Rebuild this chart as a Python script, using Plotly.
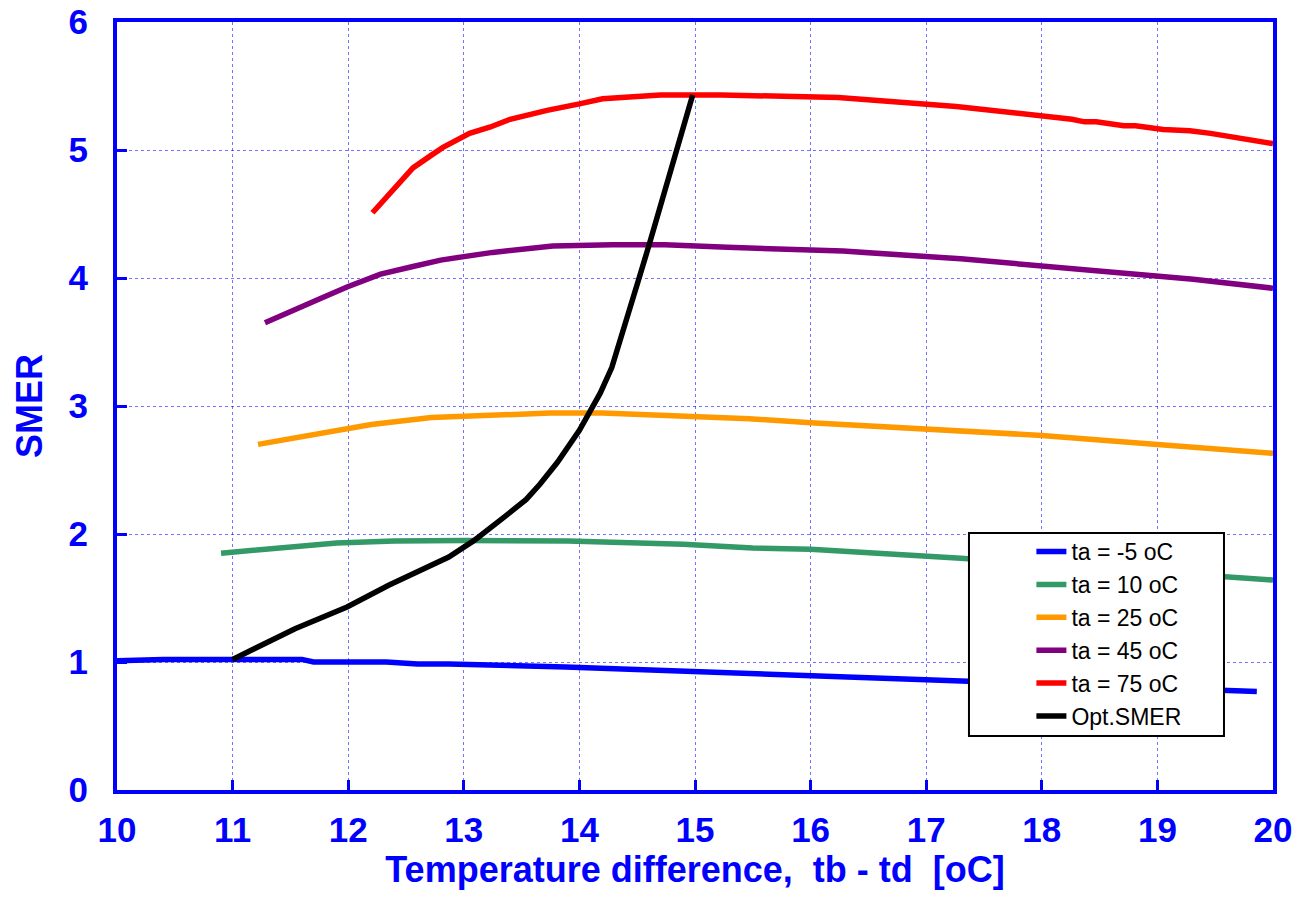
import plotly.graph_objects as go

# ---- data ----
blue_x = [10.0, 10.4, 11.0, 11.6, 11.7, 12.33, 12.6, 12.87, 13.88, 14.86, 15.47, 17.29, 19.86]
blue_y = [1.01, 1.02, 1.02, 1.02, 1.0, 1.0, 0.985, 0.985, 0.96, 0.93, 0.91, 0.85, 0.77]

green_x = [10.9, 11.4, 11.9, 12.4, 13.0, 13.9, 14.9, 15.5, 16.0, 17.3, 19.6, 20.0]
green_y = [1.85, 1.89, 1.93, 1.945, 1.95, 1.945, 1.92, 1.89, 1.88, 1.81, 1.67, 1.64]

orange_x = [11.22, 12.2, 12.72, 13.75, 14.2, 15.47, 16.0, 17.0, 18.0, 19.0, 20.0]
orange_y = [2.70, 2.855, 2.91, 2.945, 2.945, 2.90, 2.87, 2.82, 2.77, 2.70, 2.63]

purple_x = [11.28, 11.52, 11.76, 11.99, 12.28, 12.56, 12.8, 13.25, 13.77, 14.29, 14.74,
            15.28, 16.28, 17.3, 18.3, 19.31, 20.0]
purple_y = [3.65, 3.75, 3.84, 3.93, 4.03, 4.09, 4.14, 4.20, 4.25, 4.26, 4.26,
            4.24, 4.21, 4.15, 4.07, 3.99, 3.92]

red_x = [12.21, 12.56, 12.72, 12.82, 13.05, 13.14, 13.23, 13.40, 13.72, 14.0, 14.2, 14.7,
         15.23, 16.24, 17.26, 18.26, 18.37, 18.47, 18.71, 18.81, 19.05, 19.28, 19.46, 20.0]
red_y = [4.51, 4.86, 4.96, 5.02, 5.13, 5.15, 5.18, 5.24, 5.31, 5.36, 5.40, 5.43,
         5.43, 5.41, 5.34, 5.24, 5.22, 5.22, 5.19, 5.19, 5.16, 5.15, 5.13, 5.05]

opt_x = [11.0, 11.26, 11.54, 11.99, 12.35, 12.87, 13.09, 13.36, 13.54, 13.66, 13.81,
         14.0, 14.05, 14.18, 14.28, 14.41, 14.51, 14.60, 14.70, 14.84, 14.98]
opt_y = [1.02, 1.13, 1.26, 1.43, 1.6, 1.82, 1.95, 2.14, 2.27, 2.39, 2.56,
         2.81, 2.89, 3.10, 3.30, 3.67, 3.98, 4.25, 4.56, 5.0, 5.43]

series = [
    ("ta = -5 oC", blue_x, blue_y, "#0000FF"),
    ("ta = 10 oC", green_x, green_y, "#339966"),
    ("ta = 25 oC", orange_x, orange_y, "#FF9900"),
    ("ta = 45 oC", purple_x, purple_y, "#800080"),
    ("ta = 75 oC", red_x, red_y, "#FF0000"),
    ("Opt.SMER", opt_x, opt_y, "#000000"),
]

x_ticks = [10, 11, 12, 13, 14, 15, 16, 17, 18, 19, 20]
y_ticks = [0, 1, 2, 3, 4, 5, 6]

FONT = "Liberation Sans, Arial, sans-serif"
AXBLUE = "#0000FF"

fig = go.Figure()
for name, xs, ys, col in series:
    fig.add_trace(go.Scatter(x=xs, y=ys, mode="lines", name=name,
                             line=dict(color=col, width=5.5)))

axis_common = dict(
    automargin=False,
    showline=True, linecolor=AXBLUE, linewidth=4, mirror=True,
    ticks="inside", ticklen=10, tickwidth=3, tickcolor=AXBLUE,
    showgrid=True, gridcolor="rgba(0,0,255,0.55)", gridwidth=1, griddash="dot",
    zeroline=False,
    tickfont=dict(family=FONT, size=35, color=AXBLUE, weight="bold"),
)

fig.update_layout(
    width=1298, height=916,
    margin=dict(l=117, r=25, t=22, b=126),
    paper_bgcolor="white", plot_bgcolor="white",
    font=dict(family=FONT),
    xaxis=dict(range=[10, 20], tickvals=x_ticks, ticklabelstandoff=6,
               title=dict(text="Temperature difference,&nbsp; tb - td&nbsp; [oC]",
                          font=dict(family=FONT, size=36, color=AXBLUE, weight="bold"),
                          standoff=2),
               **axis_common),
    yaxis=dict(range=[0, 6], tickvals=y_ticks, ticklabelstandoff=18,
               title=dict(text="SMER",
                          font=dict(family=FONT, size=36, color=AXBLUE, weight="bold"),
                          standoff=16),
               **axis_common),
    showlegend=True,
    legend=dict(x=0.791, y=0.3385, xanchor="left", yanchor="top",
                bgcolor="rgba(0,0,0,0)", borderwidth=0,
                font=dict(family=FONT, size=23, color="black"),
                tracegroupgap=0),
    shapes=[dict(type="rect", xref="paper", yref="paper",
                 x0=0.737, x1=0.9576, y0=0.0703, y1=0.3346,
                 fillcolor="white", line=dict(color="black", width=2), layer="above")],
)

fig.write_html("out.html")
